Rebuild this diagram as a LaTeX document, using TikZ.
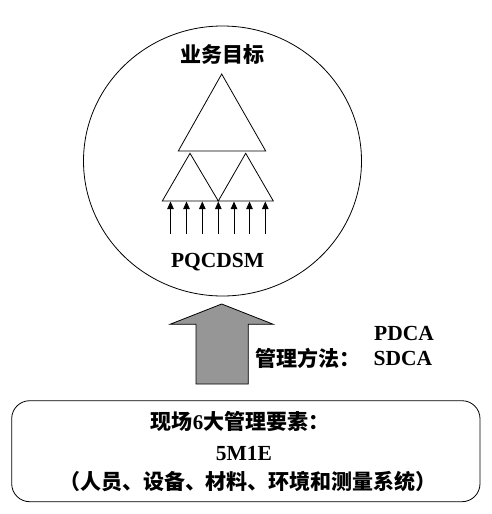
\documentclass[tikz,border=0pt]{standalone}
\usepackage{fontspec}
\setmainfont{Liberation Serif}
\newfontfamily\cjk{Noto Sans CJK SC}[BoldFont={Noto Sans CJK SC Black}]
\usetikzlibrary{arrows.meta,shapes.geometric}
\definecolor{arrowgray}{RGB}{150,150,150}
\tikzset{
  thinline/.style={draw=black,line width=0.8pt},
  cjklabel/.style={inner sep=0pt,font=\cjk\bfseries\fontsize{21}{24}\selectfont},
  latlabel/.style={inner sep=0pt,font=\bfseries\fontsize{21.5}{24}\selectfont},
  smallarrow/.style={draw=black,line width=0.8pt,-{Triangle[width=6.5pt,length=7.5pt]}},
}
\begin{document}
\begin{tikzpicture}[x=1pt,y=-1pt]
\useasboundingbox (0,0) rectangle (492,514);
% big circle
\node[thinline,ellipse,minimum width=278pt,minimum height=270pt,inner sep=0pt] (circ) at (222.5,161) {};
\node[cjklabel] (goal) at (222.5,55) {业务目标};
% triangles
\draw[thinline,line join=miter] (221.7,74) -- (265.7,151) -- (178.3,151) -- cycle;
\draw[thinline,line join=miter] (190,153.3) -- (218.3,201) -- (162.3,201) -- cycle;
\draw[thinline,line join=miter] (245.7,153.3) -- (273.3,201) -- (218.3,201) -- cycle;
% small arrows
\foreach \i/\x in {1/170.5,2/186.5,3/202.3,4/218.3,5/234,6/249.5,7/265.3}{
  \coordinate (b\i) at (\x,233.5);
  \coordinate (t\i) at (\x,201.5);
  \draw[smallarrow] (b\i) -- (t\i);
}
\node[latlabel,anchor=base] (pq) at (217.6,267.7) {PQCDSM};
% block arrow
\draw[thinline,fill=arrowgray,line join=miter] (221.7,304) -- (273.3,324.3) -- (248.3,324.3) -- (248.3,384) -- (196,384) -- (196,324.3) -- (170,324.3) -- cycle;
\node[latlabel,anchor=base] (pdca) at (404,340.5) {PDCA};
\node[latlabel,anchor=base] (sdca) at (403,365.5) {SDCA};
\node[cjklabel,anchor=west] (method) at (255.5,358) {管理方法：};
% bottom box
\node[thinline,rounded corners=18pt,minimum width=468.3pt,minimum height=101pt,inner sep=0pt] (box) at (245.85,451.2) {};
\node[inner sep=0pt,font=\bfseries\fontsize{21}{24}\selectfont] (l1) at (240,421.7) {{\cjk 现场}6{\cjk 大管理要素：}};
\node[latlabel,anchor=base] (l2) at (244,460.5) {5M1E};
\node[cjklabel] (l3) at (248,481.7) {（人员、设备、材料、环境和测量系统）};
\end{tikzpicture}
\end{document}
